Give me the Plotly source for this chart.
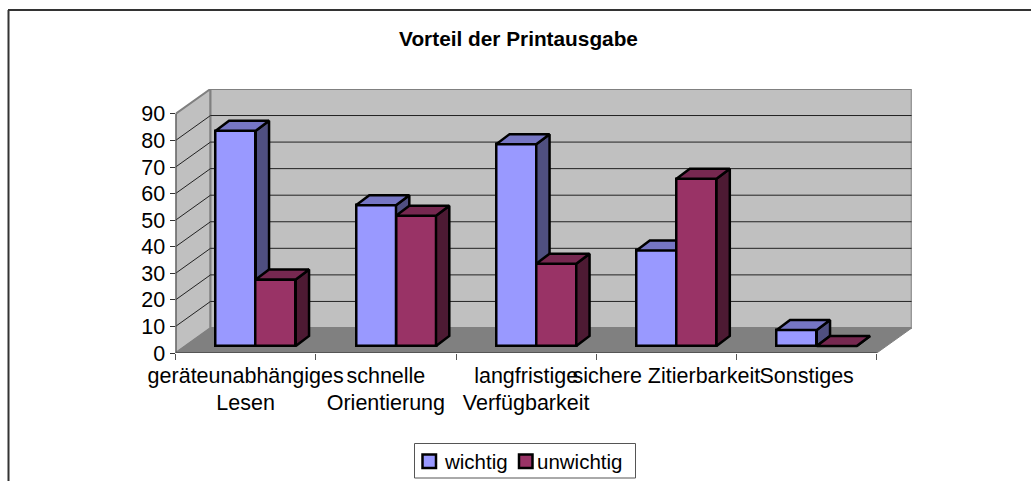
import plotly.graph_objects as go

categories = ["geräteunabhängiges<br>Lesen", "schnelle<br>Orientierung", "langfristige<br>Verfügbarkeit",
              "sichere Zitierbarkeit", "Sonstiges"]
wichtig = [81, 53, 76, 36, 6]
unwichtig = [25, 49, 31, 63, 0]
y_ticks = [0, 10, 20, 30, 40, 50, 60, 70, 80, 90]
series_names = ["wichtig", "unwichtig"]

W, H = 1031, 481
PX_X = 140.25          # pixels per category
PX_Y = 2.656           # pixels per y unit
LEFT, BOTTOM = 175.5, 353.0
DX, DY = 35 / PX_X, 25 / PX_Y            # wall depth in axis units
BAR_W = 40 / PX_X
LIFT = 7 / PX_Y                          # bars stand a little inside the floor
BAR_DX, BAR_DY = 13.3 / PX_X, 10 / PX_Y  # bar depth
OFFS = {"blue": 0.287 + BAR_W / 2, "red": 0.287 + BAR_W * 1.5}
XR = [0, 5 + DX]
YR = [0, 90 + DY]
xdom = [LEFT / W, (LEFT + XR[1] * PX_X) / W]
ydom = [(H - BOTTOM) / H, (H - BOTTOM + YR[1] * PX_Y) / H]
FONT = "Liberation Sans"
BLUE, RED = "#9999FF", "#993366"


def faces(values, off):
    side_x, side_y, top_x, top_y = [], [], [], []
    for i, v in enumerate(values):
        l = i + off - BAR_W / 2
        r = l + BAR_W
        t = v + LIFT
        side_x += [r, r + BAR_DX, r + BAR_DX, r, r, None]
        side_y += [LIFT, LIFT + BAR_DY, t + BAR_DY, t, LIFT, None]
        top_x += [l, l + BAR_DX, r + BAR_DX, r, l, None]
        top_y += [t, t + BAR_DY, t + BAR_DY, t, t, None]
    return side_x, side_y, top_x, top_y


def series(name, values, off, front, side, top, xa, ya):
    sx, sy, tx, ty = faces(values, off)
    line = dict(color="black", width=2.5)
    return [
        go.Bar(name=name, x=[i + off for i in range(5)], y=values, base=[LIFT] * 5, width=[BAR_W] * 5,
               marker=dict(color=front, line=line), xaxis=xa, yaxis=ya, hoverinfo="skip", showlegend=False),
        go.Scatter(x=sx, y=sy, mode="lines", fill="toself", fillcolor=side, line=line,
                   showlegend=False, xaxis=xa, yaxis=ya, hoverinfo="skip"),
        go.Scatter(x=tx, y=ty, mode="lines", fill="toself", fillcolor=top, line=line,
                   showlegend=False, xaxis=xa, yaxis=ya, hoverinfo="skip"),
    ]


traces = series(series_names[0], wichtig, OFFS["blue"], BLUE, "#4F4F80", "#7676C4", "x", "y") + \
    series(series_names[1], unwichtig, OFFS["red"], RED, "#4D1A33", "#762850", "x2", "y2")
fig = go.Figure(traces)

GRAY = "#808080"
shapes = [
    # left wall, back wall, floor
    dict(type="path", path=f"M0,0 L{DX},{DY} L{DX},{90+DY} L0,90 Z", fillcolor="#C0C0C0",
         line=dict(color=GRAY, width=2), layer="below"),
    dict(type="rect", x0=DX, x1=5 + DX, y0=DY, y1=90 + DY, fillcolor="#C0C0C0",
         line=dict(color=GRAY, width=2), layer="below"),
    dict(type="path", path=f"M0,0 L5,0 L{5+DX},{DY} L{DX},{DY} Z", fillcolor=GRAY,
         line=dict(color=GRAY, width=1), layer="below"),
]
for v in y_ticks[1:-1]:
    shapes.append(dict(type="line", x0=DX, x1=5 + DX, y0=v + DY, y1=v + DY,
                       line=dict(color="#222222", width=1), layer="below"))
    shapes.append(dict(type="line", x0=0, x1=DX, y0=v, y1=v + DY,
                       line=dict(color="#222222", width=1), layer="below"))
shapes += [
    dict(type="line", x0=0, x1=0, y0=0, y1=90, line=dict(color="#555555", width=2)),
    dict(type="line", x0=0, x1=5, y0=0, y1=0, line=dict(color="#555555", width=2)),
]


def px_line(x0, y0, x1, y1, color="#333333", width=2):
    return dict(type="line", xref="paper", yref="paper", x0=x0 / W, x1=x1 / W,
                y0=1 - y0 / H, y1=1 - y1 / H, line=dict(color=color, width=width))


def px_rect(x0, y0, x1, y1, fill, color, width):
    return dict(type="rect", xref="paper", yref="paper", x0=x0 / W, x1=x1 / W,
                y0=1 - y0 / H, y1=1 - y1 / H, fillcolor=fill, line=dict(color=color, width=width))


# outer frame of the chart: only left and top edges fall inside the picture
shapes += [px_line(8.5, 10, 8.5, 481), px_line(8, 10, 1031, 10)]
# legend box and swatches
shapes += [px_rect(414.5, 443.5, 635.5, 478, "white", "#555555", 1),
           px_rect(422.5, 454.5, 436, 468, BLUE, "black", 2.5),
           px_rect(519, 454.5, 532.5, 468, RED, "black", 2.5)]
annotations = [
    dict(text=series_names[0], xref="paper", yref="paper", x=441.5 / W, y=1 - 461 / H, xanchor="left",
         yanchor="middle", showarrow=False, font=dict(size=20.5, family=FONT, color="black")),
    dict(text=series_names[1], xref="paper", yref="paper", x=535 / W, y=1 - 461 / H, xanchor="left",
         yanchor="middle", showarrow=False, font=dict(size=20.5, family=FONT, color="black")),
]

fig.update_layout(
    width=W, height=H, margin=dict(l=0, r=0, t=0, b=0, pad=0), autosize=False,
    paper_bgcolor="white", plot_bgcolor="rgba(0,0,0,0)",
    font=dict(family=FONT, size=21.5, color="black"),
    title=dict(text="<b>Vorteil der Printausgabe</b>", x=518.5 / W, xref="paper", xanchor="center",
               y=1 - 39 / H, yref="paper", yanchor="middle", font=dict(size=20.8, family=FONT, color="black"),
               automargin=False),
    xaxis=dict(domain=xdom, range=XR, tickmode="array", tickvals=[i + 0.5 for i in range(5)],
               ticktext=categories, tickangle=0, ticks="", showgrid=False, zeroline=False, showline=False,
               ticklabeloverflow="allow", ticklabelstandoff=7, fixedrange=True, automargin=False,
               minor=dict(tick0=0, dtick=1, ticks="outside", ticklen=6, tickcolor="#555555", tickwidth=1, showgrid=False)),
    yaxis=dict(domain=ydom, range=YR, tickmode="array", tickvals=y_ticks, ticks="outside", ticklen=5, automargin=False,
               tickcolor="#333333", tickwidth=1, showgrid=False, zeroline=False, showline=False, fixedrange=True),
    xaxis2=dict(domain=xdom, range=XR, overlaying="x", visible=False, fixedrange=True, automargin=False),
    yaxis2=dict(domain=ydom, range=YR, overlaying="y", visible=False, fixedrange=True, automargin=False),
    shapes=shapes, annotations=annotations, bargap=0, showlegend=False,
)
fig.write_html("out.html", config=dict(displayModeBar=False), post_script="document.body.style.margin='0';")
